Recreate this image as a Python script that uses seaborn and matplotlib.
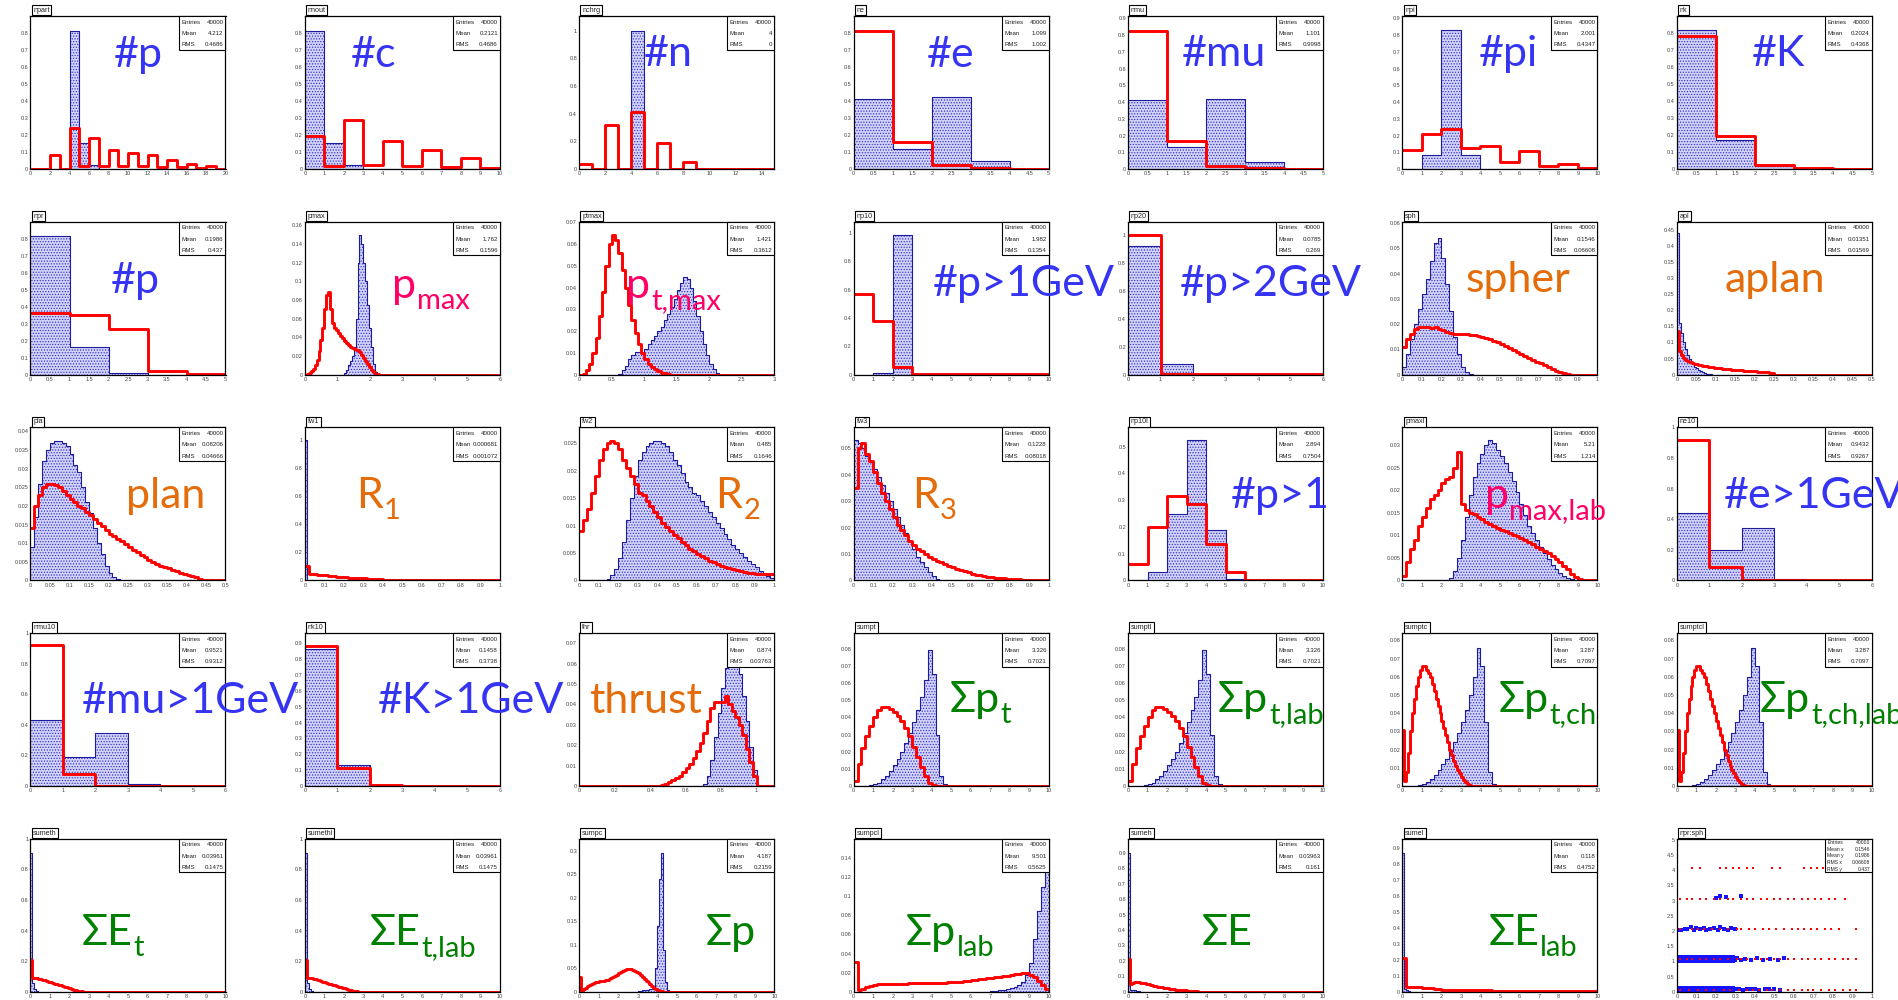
import numpy as np
import pandas as pd
import matplotlib
matplotlib.use("Agg")
import matplotlib.pyplot as plt
from matplotlib.patches import Rectangle
from matplotlib.ticker import AutoMinorLocator
import seaborn as sns

sns.set_style("white")
plt.rcParams["font.family"] = ["Liberation Sans", "DejaVu Sans"]
plt.rcParams["hatch.linewidth"] = 0.55

FIG_W, FIG_H = 1899, 1000

BLUE_TXT = "#3434f2"
ORANGE_TXT = "#e46c0a"
PINK_TXT = "#ff0066"
GREEN_TXT = "#008000"
FILL_FACE = "#d2d3f6"
FILL_DOTS = "#2d2dd8"
FILL_EDGE = "#1c1c9c"
RED = "#ff0000"
LABEL_FONTS = ["Lato", "Open Sans", "DejaVu Sans"]

# ---- histogram contents: (first bin low edge, bin width, bin heights) ----
npart_blue = [0, 0, 0, 0, 0.81, 0.155, 0.025]
npart_red = [0, 0, 0.085, 0, 0.24, 0.02, 0.18, 0.02, 0.11, 0.015, 0.095, 0.015,
             0.085, 0.01, 0.055, 0.01, 0.03, 0.003, 0.015, 0.002]
nnout_blue = [0.81, 0.155, 0.025]
nnout_red = [0.195, 0.02, 0.29, 0.025, 0.165, 0.015, 0.11, 0.01, 0.065, 0.005]
nchrg_blue = [0, 0, 0, 0, 1.0]
nchrg_red = [0.035, 0.002, 0.32, 0.002, 0.41, 0.002, 0.19, 0.002, 0.05, 0.002,
             0.001, 0.001, 0.001, 0.001, 0.001]
ne_blue = [0.41, 0.12, 0.42, 0.045]
ne_red = [0.81, 0.16, 0.025, 0.003, 0.002]
nmu_blue = [0.41, 0.13, 0.42, 0.04]
nmu_red = [0.825, 0.165, 0.015, 0.003, 0.002]
npi_blue = [0, 0.085, 0.83, 0.085]
npi_red = [0.115, 0.21, 0.24, 0.125, 0.135, 0.04, 0.11, 0.015, 0.03, 0.005]
nk_blue = [0.815, 0.17, 0.015]
nk_red = [0.78, 0.195, 0.025, 0.003, 0.002]

npr_blue = [0.815, 0.165, 0.012]
npr_red = [0.365, 0.35, 0.27, 0.02, 0.003]
pmax_blue = [0.002, 0.005, 0.01, 0.015, 0.02, 0.03, 0.06, 0.12, 0.15, 0.14, 0.12,
             0.1, 0.075, 0.05, 0.03, 0.012, 0.003]
pmax_red = [0.0, 0.001, 0.002, 0.004, 0.006, 0.01, 0.016, 0.025, 0.037, 0.05, 0.07,
            0.085, 0.089, 0.07, 0.055, 0.05, 0.048, 0.045, 0.042, 0.039, 0.036,
            0.034, 0.032, 0.03, 0.029, 0.028, 0.027, 0.026, 0.024, 0.021, 0.018,
            0.015, 0.011, 0.008, 0.005, 0.003, 0.001, 0.0005]
ptmax_blue = [0.0005, 0.002, 0.004, 0.007, 0.009, 0.0105, 0.0105, 0.01, 0.012,
              0.014, 0.016, 0.018, 0.02, 0.022, 0.025, 0.028, 0.031, 0.035, 0.039,
              0.042, 0.045, 0.044, 0.04, 0.034, 0.027, 0.02, 0.014, 0.009, 0.005,
              0.0025, 0.001]
ptmax_red = [0, 0.0005, 0.002, 0.005, 0.01, 0.017, 0.027, 0.038, 0.05, 0.06, 0.064,
             0.062, 0.056, 0.048, 0.04, 0.032, 0.025, 0.019, 0.014, 0.01, 0.007,
             0.005, 0.0035, 0.0025, 0.0015, 0.001, 0.0006, 0.0003]
np10_blue = [0, 0.015, 0.985]
np10_red = [0.57, 0.38, 0.055, 0.003, 0.003, 0.003, 0.003, 0.003, 0.003, 0.003]
np20_blue = [0.92, 0.075]
np20_red = [0.995, 0.005, 0.003, 0.003, 0.003, 0.003]
sph_blue = [0.003, 0.008, 0.014, 0.02, 0.026, 0.032, 0.038, 0.045, 0.052, 0.054,
            0.046, 0.036, 0.025, 0.015, 0.008, 0.003, 0.0012, 0.0004]
sph_red = [0.011, 0.014, 0.016, 0.018, 0.019, 0.019, 0.019, 0.0185, 0.019, 0.018,
           0.0175, 0.017, 0.0165, 0.016, 0.016, 0.016, 0.016, 0.0158, 0.0158,
           0.0155, 0.015, 0.0145, 0.014, 0.0135, 0.013, 0.012, 0.0112, 0.0105,
           0.0098, 0.009, 0.0083, 0.0075, 0.0068, 0.006, 0.0052, 0.0045, 0.0038,
           0.003, 0.0023, 0.0016, 0.001, 0.0005, 0.0002]
apl_blue = [0.44, 0.16, 0.13, 0.1, 0.08, 0.062, 0.05, 0.04, 0.032, 0.025, 0.02,
            0.015, 0.011, 0.008, 0.005, 0.003, 0.002, 0.001]
apl_red = [0.135, 0.075, 0.06, 0.052, 0.047, 0.043, 0.04, 0.038, 0.036, 0.034,
           0.032, 0.031, 0.029, 0.028, 0.027, 0.026, 0.025, 0.024, 0.023, 0.022,
           0.021, 0.02, 0.0195, 0.019, 0.018, 0.0175, 0.017, 0.0165, 0.016, 0.0155,
           0.015, 0.0145, 0.014, 0.0135, 0.013, 0.0125, 0.012, 0.0115, 0.011,
           0.0105, 0.01, 0.0095, 0.009, 0.0085, 0.008, 0.0075, 0.007, 0.0065,
           0.006, 0.0055]

pla_blue = [0.009, 0.017, 0.026, 0.032, 0.035, 0.037, 0.0375, 0.0375, 0.037, 0.036,
            0.034, 0.031, 0.029, 0.025, 0.021, 0.018, 0.014, 0.01, 0.007, 0.004,
            0.002, 0.001, 0.0003]
pla_red = [0.014, 0.02, 0.023, 0.025, 0.026, 0.026, 0.0255, 0.025, 0.024, 0.023,
           0.022, 0.021, 0.02, 0.0195, 0.0185, 0.0175, 0.0165, 0.0155, 0.0145,
           0.0135, 0.0125, 0.012, 0.011, 0.0105, 0.0098, 0.009, 0.0083, 0.0076,
           0.0069, 0.0062, 0.0056, 0.005, 0.0045, 0.004, 0.0036, 0.0032, 0.0028,
           0.0024, 0.002, 0.0017, 0.0014, 0.0011, 0.0008, 0.0005, 0.0002]
fw1_blue = [1.0]
fw1_red = [0.1, 0.045, 0.042, 0.04, 0.038, 0.035, 0.032, 0.03, 0.027, 0.025, 0.022,
           0.02, 0.019, 0.018, 0.017, 0.015, 0.013, 0.011, 0.009, 0.007]
fw2_blue = [0.0003, 0.001, 0.002, 0.004, 0.007, 0.011, 0.015, 0.019, 0.022, 0.0235,
            0.0245, 0.025, 0.0255, 0.0255, 0.025, 0.0245, 0.0235, 0.022, 0.021,
            0.0195, 0.018, 0.017, 0.016, 0.0155, 0.0145, 0.0135, 0.0125, 0.0115,
            0.0105, 0.0095, 0.0085, 0.0075, 0.0065, 0.0057, 0.005, 0.0043, 0.0036,
            0.003, 0.0024, 0.0018, 0.0013, 0.0008, 0.0004]
fw2_red = [0.009, 0.011, 0.013, 0.016, 0.019, 0.022, 0.024, 0.025, 0.0255, 0.025,
           0.024, 0.022, 0.0205, 0.019, 0.0175, 0.016, 0.0155, 0.0145, 0.0135,
           0.0125, 0.0115, 0.0105, 0.0098, 0.009, 0.0083, 0.0077, 0.007, 0.0064,
           0.0058, 0.0053, 0.0048, 0.0044, 0.004, 0.0036, 0.0033, 0.003, 0.0027,
           0.0025, 0.0023, 0.0021, 0.0019, 0.0017, 0.0015, 0.0014, 0.0013, 0.0012,
           0.0012, 0.0012, 0.0012, 0.0012]
fw3_blue = [0.053, 0.052, 0.05, 0.047, 0.045, 0.042, 0.039, 0.036, 0.033, 0.03,
            0.027, 0.024, 0.021, 0.018, 0.015, 0.012, 0.009, 0.007, 0.005, 0.003,
            0.0015, 0.0005]
fw3_red = [0.035, 0.05, 0.052, 0.048, 0.045, 0.041, 0.037, 0.033, 0.03, 0.027, 0.024,
           0.021, 0.019, 0.017, 0.015, 0.0135, 0.012, 0.011, 0.01, 0.009, 0.0082,
           0.0075, 0.0068, 0.0062, 0.0056, 0.005, 0.0045, 0.004, 0.0035, 0.003,
           0.0026, 0.0022, 0.0019, 0.0016, 0.0014, 0.0012, 0.001, 0.0009, 0.0008,
           0.0007, 0.0006, 0.0005, 0.0004, 0.0003]
np10l_blue = [0, 0.03, 0.25, 0.525, 0.19, 0.005]
np10l_red = [0.06, 0.2, 0.315, 0.285, 0.135, 0.03, 0.003]
pmaxl_blue = [0.0005, 0.002, 0.005, 0.009, 0.014, 0.019, 0.023, 0.026, 0.028, 0.03,
              0.031, 0.0305, 0.029, 0.0275, 0.026, 0.024, 0.022, 0.0195, 0.017,
              0.0145, 0.012, 0.0105, 0.009, 0.0075, 0.006, 0.0048, 0.0035, 0.0025,
              0.0017, 0.001, 0.0005, 0.0002]
pmaxl_red = [0.001, 0.004, 0.007, 0.009, 0.012, 0.014, 0.016, 0.018, 0.019, 0.02,
             0.0215, 0.0225, 0.023, 0.025, 0.0285, 0.017, 0.0155, 0.015, 0.0148,
             0.014, 0.0135, 0.013, 0.0125, 0.012, 0.0115, 0.0112, 0.011, 0.0105,
             0.01, 0.0098, 0.0095, 0.009, 0.0085, 0.008, 0.0075, 0.007, 0.0065,
             0.006, 0.0055, 0.0048, 0.004, 0.0032, 0.0025, 0.0015, 0.0008, 0.0003]
ne10_blue = [0.44, 0.2, 0.345, 0.012]
ne10_red = [0.915, 0.085, 0.003, 0.002, 0.002, 0.002]

nmu10_blue = [0.435, 0.19, 0.35, 0.012]
nmu10_red = [0.92, 0.08, 0.003, 0.002, 0.002, 0.002]
nk10_blue = [0.86, 0.135, 0.01]
nk10_red = [0.88, 0.115, 0.01, 0.002, 0.002, 0.002]
thr_blue = [0.001, 0.005, 0.013, 0.024, 0.036, 0.048, 0.058, 0.066, 0.068, 0.064,
            0.055, 0.044, 0.032, 0.019, 0.008]
thr_red = [0.0005, 0.001, 0.002, 0.003, 0.004, 0.005, 0.007, 0.009, 0.011, 0.014,
           0.017, 0.021, 0.026, 0.032, 0.038, 0.041, 0.041, 0.041, 0.044, 0.04,
           0.037, 0.034, 0.03, 0.025, 0.018, 0.012, 0.005]
sumpt_blue = [0.0005, 0.001, 0.002, 0.004, 0.006, 0.009, 0.012, 0.016, 0.02, 0.025,
              0.031, 0.037, 0.044, 0.052, 0.062, 0.079, 0.065, 0.03, 0.006, 0.001]
sumpt_red = [0.003, 0.013, 0.022, 0.029, 0.035, 0.04, 0.044, 0.046, 0.046, 0.045,
             0.043, 0.041, 0.038, 0.034, 0.029, 0.023, 0.017, 0.011, 0.006, 0.002,
             0.0005]
sumptc_blue = [0.0005, 0.001, 0.002, 0.004, 0.006, 0.009, 0.012, 0.015, 0.019,
               0.024, 0.029, 0.035, 0.042, 0.05, 0.06, 0.076, 0.066, 0.035, 0.008,
               0.001]
sumptc_red = [0.031, 0.003, 0.008, 0.018, 0.03, 0.04, 0.048, 0.055, 0.06, 0.064,
              0.066, 0.066, 0.064, 0.062, 0.06, 0.056, 0.052, 0.048, 0.044, 0.04,
              0.036, 0.032, 0.028, 0.024, 0.02, 0.017, 0.014, 0.011, 0.009, 0.007,
              0.005, 0.0035, 0.002, 0.001, 0.0005]

sumeth_blue = [0.91, 0.06, 0.02, 0.005]
sumeth_red = [0.21, 0.09, 0.09, 0.088, 0.085, 0.082, 0.078, 0.074, 0.07, 0.066,
              0.062, 0.058, 0.054, 0.05, 0.046, 0.042, 0.038, 0.034, 0.03, 0.026,
              0.022, 0.018, 0.014, 0.01, 0.007, 0.004, 0.002]
sumpc_blue = [0.001, 0.002, 0.003, 0.003, 0.004, 0.004, 0.005, 0.006, 0.01, 0.05,
              0.14, 0.24, 0.295, 0.09, 0.02, 0.004]
sumpc_red = [0.032, 0.002, 0.006, 0.009, 0.012, 0.014, 0.016, 0.018, 0.02, 0.021,
             0.022, 0.023, 0.024, 0.025, 0.026, 0.027, 0.029, 0.031, 0.033, 0.036,
             0.039, 0.042, 0.045, 0.047, 0.048, 0.048, 0.048, 0.047, 0.045, 0.043,
             0.04, 0.036, 0.032, 0.028, 0.024, 0.02, 0.016, 0.012, 0.009, 0.006,
             0.004, 0.002, 0.001, 0.0005]
sumpcl_blue = [0.0005, 0.001, 0.0015, 0.002, 0.003, 0.004, 0.005, 0.007, 0.01,
               0.018, 0.03, 0.055, 0.085, 0.11, 0.125]
sumpcl_red = [0.031, 0.002, 0.003, 0.005, 0.0065, 0.0075, 0.008, 0.008, 0.0082,
              0.0085, 0.0085, 0.0085, 0.0085, 0.0086, 0.0087, 0.0088, 0.0089, 0.009,
              0.0091, 0.0092, 0.0093, 0.0094, 0.0095, 0.0097, 0.0099, 0.0101,
              0.0103, 0.0106, 0.011, 0.0114, 0.0119, 0.0124, 0.0129, 0.0134, 0.014,
              0.0146, 0.0152, 0.0158, 0.0164, 0.017, 0.0176, 0.0182, 0.0188, 0.0194,
              0.0198, 0.018, 0.015, 0.011, 0.007, 0.003]
sumeh_blue = [0.9, 0.012, 0.012, 0.01, 0.008, 0.004]
sumeh_red = [0.21, 0.05, 0.06, 0.065, 0.064, 0.062, 0.06, 0.057, 0.054, 0.051,
             0.048, 0.045, 0.042, 0.039, 0.036, 0.033, 0.03, 0.028, 0.026, 0.024,
             0.022, 0.02, 0.018, 0.016, 0.014, 0.013, 0.012, 0.011, 0.01, 0.009,
             0.008, 0.007, 0.006, 0.005, 0.005, 0.004]
sumel_blue = [0.87, 0.02, 0.01, 0.005]
sumel_red = [0.21, 0.032, 0.031, 0.029, 0.027, 0.025, 0.023, 0.021, 0.019, 0.017,
             0.014, 0.012, 0.012, 0.012, 0.012, 0.012, 0.012, 0.012, 0.012, 0.012,
             0.012, 0.012, 0.011, 0.007, 0.006, 0.006, 0.006, 0.006, 0.006, 0.006,
             0.006, 0.005, 0.005, 0.005, 0.005, 0.005, 0.005, 0.005, 0.004, 0.004,
             0.004, 0.004, 0.004, 0.004, 0.004, 0.003, 0.003, 0.003, 0.003, 0.003]

# ---- npr:sph scatter ----
scat_band_x = [0.00, 0.01, 0.02, 0.03, 0.04, 0.05, 0.06, 0.07, 0.08, 0.09, 0.10,
               0.11, 0.12, 0.13, 0.14, 0.15, 0.16, 0.17, 0.18, 0.19, 0.20, 0.21,
               0.22, 0.23, 0.24, 0.25, 0.26, 0.27, 0.28, 0.29]
scat_band0_y = [0.05, 0.11]
scat_band1_y = [1.0, 1.07, 1.14]
scat_band2_x = [0.0, 0.02, 0.04, 0.05, 0.07, 0.09, 0.1, 0.12, 0.14, 0.15, 0.17,
                0.19, 0.21, 0.22, 0.24, 0.26, 0.28, 0.3]
scat_band2_y = [2.04, 2.02, 2.08, 2.05, 2.12, 2.03, 2.09, 2.06, 2.11, 2.02, 2.07,
                2.1, 2.04, 2.12, 2.06, 2.03, 2.09, 2.05]
scat_tail_x = [0.31, 0.32, 0.34, 0.36, 0.38, 0.4, 0.42, 0.45, 0.47, 0.5, 0.53,
               0.3, 0.31, 0.33, 0.35, 0.38, 0.41, 0.44, 0.48, 0.52, 0.55,
               0.2, 0.22, 0.25, 0.33]
scat_tail_y = [0.08, 0.1, 0.07, 0.09, 0.08, 0.1, 0.07, 0.09, 0.08, 0.1, 0.07,
               1.06, 1.1, 1.05, 1.09, 1.06, 1.1, 1.05, 1.08, 1.06, 1.1,
               3.1, 3.15, 3.12, 3.16]
scat_red_rows = {
    0.07: [0.014, 0.06, 0.11, 0.15, 0.19, 0.24, 0.27, 0.32, 0.36, 0.39, 0.42, 0.46,
           0.49, 0.53, 0.57, 0.60, 0.64, 0.67, 0.70, 0.74, 0.78, 0.81, 0.85, 0.89,
           0.92],
    1.07: [0.014, 0.05, 0.08, 0.12, 0.15, 0.19, 0.22, 0.26, 0.31, 0.33, 0.36, 0.40,
           0.43, 0.46, 0.50, 0.53, 0.57, 0.60, 0.64, 0.67, 0.71, 0.74, 0.78, 0.81,
           0.85, 0.88, 0.92],
    2.07: [0.014, 0.08, 0.11, 0.14, 0.18, 0.22, 0.26, 0.31, 0.33, 0.37, 0.40, 0.44,
           0.47, 0.51, 0.55, 0.59, 0.62, 0.65, 0.69, 0.72, 0.76, 0.79, 0.83, 0.92],
    3.05: [0.014, 0.05, 0.08, 0.12, 0.15, 0.19, 0.22, 0.26, 0.29, 0.33, 0.36, 0.39,
           0.43, 0.46, 0.50, 0.53, 0.57, 0.60, 0.64, 0.67, 0.71, 0.74, 0.78, 0.81,
           0.86],
    4.07: [0.08, 0.12, 0.22, 0.25, 0.29, 0.32, 0.36, 0.39, 0.49, 0.53, 0.65, 0.69,
           0.72, 0.75],
}

PANELS = [
    # row 1
    dict(title="npart", xmax=20, xstep=2, xtop=20, ymax=0.898, ytop=0.8, ystep=0.1,
         blue=(0, 1, npart_blue), red=(0, 1, npart_red), stats=("4.212", "0.4686"),
         label=("#p", "", BLUE_TXT, 83, 51)),
    dict(title="nnout", xmax=10, xstep=1, xtop=10, ymax=0.898, ytop=0.8, ystep=0.1,
         blue=(0, 1, nnout_blue), red=(0, 1, nnout_red), stats=("0.2121", "0.4686"),
         label=("#c", "", BLUE_TXT, 46, 51)),
    dict(title="nchrg", xmax=15, xstep=2, xtop=14, ymax=1.106, ytop=1.0, ystep=0.2,
         blue=(0, 1, nchrg_blue), red=(0, 1, nchrg_red), stats=("4", "0"),
         label=("#n", "", BLUE_TXT, 65, 50)),
    dict(title="ne", xmax=5, xstep=0.5, xtop=5, ymax=0.898, ytop=0.8, ystep=0.1,
         blue=(0, 1, ne_blue), red=(0, 1, ne_red), stats=("1.099", "1.002"),
         label=("#e", "", BLUE_TXT, 73, 51)),
    dict(title="nmu", xmax=5, xstep=0.5, xtop=5, ymax=0.914, ytop=0.9, ystep=0.1,
         blue=(0, 1, nmu_blue), red=(0, 1, nmu_red), stats=("1.101", "0.9998"),
         label=("#mu", "", BLUE_TXT, 54, 50)),
    dict(title="npi", xmax=10, xstep=1, xtop=10, ymax=0.914, ytop=0.9, ystep=0.1,
         blue=(0, 1, npi_blue), red=(0, 1, npi_red), stats=("2.001", "0.4347"),
         label=("#pi", "", BLUE_TXT, 76, 50)),
    dict(title="nk", xmax=5, xstep=0.5, xtop=5, ymax=0.898, ytop=0.8, ystep=0.1,
         blue=(0, 1, nk_blue), red=(0, 1, nk_red), stats=("0.2024", "0.4368"),
         label=("#K", "", BLUE_TXT, 75, 50)),
    # row 2
    dict(title="npr", xmax=5, xstep=0.5, xtop=5, ymax=0.902, ytop=0.8, ystep=0.1,
         blue=(0, 1, npr_blue), red=(0, 1, npr_red), stats=("0.1986", "0.437"),
         label=("#p", "", BLUE_TXT, 80, 71)),
    dict(title="pmax", xmax=6, xstep=1, xtop=6, ymax=0.164, ytop=0.16, ystep=0.02,
         blue=(1.2, 0.06, pmax_blue), red=(0, 0.06, pmax_red), stats=("1.762", "0.1596"),
         label=("p", "max", PINK_TXT, 87, 76)),
    dict(title="ptmax", xmax=3, xstep=0.5, xtop=3, ymax=0.0703, ytop=0.07, ystep=0.01,
         blue=(0.6, 0.05, ptmax_blue), red=(0, 0.05, ptmax_red), stats=("1.421", "0.3612"),
         label=("p", "t,max", PINK_TXT, 47, 76)),
    dict(title="np10", xmax=10, xstep=1, xtop=10, ymax=1.08, ytop=1.0, ystep=0.2,
         blue=(0, 1, np10_blue), red=(0, 1, np10_red), stats=("1.982", "0.1354"),
         label=("#p>1GeV", "", BLUE_TXT, 79, 74)),
    dict(title="np20", xmax=6, xstep=1, xtop=6, ymax=1.093, ytop=1.0, ystep=0.2,
         blue=(0, 1, np20_blue), red=(0, 1, np20_red), stats=("0.0785", "0.269"),
         label=("#p>2GeV", "", BLUE_TXT, 52, 74)),
    dict(title="sph", xmax=1, xstep=0.1, xtop=1, ymax=0.0605, ytop=0.06, ystep=0.01,
         blue=(0, 0.02, sph_blue), red=(0, 0.02, sph_red), stats=("0.1546", "0.06608"),
         label=("spher", "", ORANGE_TXT, 63, 70)),
    dict(title="apl", xmax=0.5, xstep=0.05, xtop=0.5, ymax=0.475, ytop=0.45, ystep=0.05,
         blue=(0, 0.005, apl_blue), red=(0, 0.005, apl_red), stats=("0.01351", "0.01569"),
         label=("aplan", "", ORANGE_TXT, 48, 70)),
    # row 3
    dict(title="pla", xmax=0.5, xstep=0.05, xtop=0.5, ymax=0.0411, ytop=0.04, ystep=0.005,
         blue=(0, 0.01, pla_blue), red=(0, 0.01, pla_red), stats=("0.08206", "0.04666"),
         label=("plan", "", ORANGE_TXT, 96, 81)),
    dict(title="fw1", xmax=1, xstep=0.1, xtop=1, ymax=1.089, ytop=1.0, ystep=0.2,
         blue=(0, 0.01, fw1_blue), red=(0, 0.02, fw1_red), stats=("0.000681", "0.001072"),
         label=("R", "1", ORANGE_TXT, 51, 81)),
    dict(title="fw2", xmax=1, xstep=0.1, xtop=1, ymax=0.0279, ytop=0.025, ystep=0.005,
         blue=(0.14, 0.02, fw2_blue), red=(0, 0.02, fw2_red), stats=("0.485", "0.1646"),
         label=("R", "2", ORANGE_TXT, 136, 81)),
    dict(title="fw3", xmax=1, xstep=0.1, xtop=1, ymax=0.0579, ytop=0.05, ystep=0.01,
         blue=(0, 0.02, fw3_blue), red=(0, 0.02, fw3_red), stats=("0.1228", "0.08018"),
         label=("R", "3", ORANGE_TXT, 58, 81)),
    dict(title="np10l", xmax=10, xstep=1, xtop=10, ymax=0.572, ytop=0.5, ystep=0.1,
         blue=(0, 1, np10l_blue), red=(0, 1, np10l_red), stats=("2.894", "0.7504"),
         label=("#p>1", "", BLUE_TXT, 103, 81)),
    dict(title="pmaxl", xmax=10, xstep=1, xtop=10, ymax=0.0339, ytop=0.03, ystep=0.005,
         blue=(2.4, 0.2, pmaxl_blue), red=(0, 0.2, pmaxl_red), stats=("5.21", "1.214"),
         label=("p", "max,lab", PINK_TXT, 82, 81)),
    dict(title="ne10", xmax=6, xstep=1, xtop=6, ymax=1.0, ytop=1.0, ystep=0.2,
         blue=(0, 1, ne10_blue), red=(0, 1, ne10_red), stats=("0.9432", "0.9267"),
         label=("#e>1GeV", "", BLUE_TXT, 47, 81)),
    # row 4
    dict(title="nmu10", xmax=6, xstep=1, xtop=6, ymax=1.0, ytop=1.0, ystep=0.2,
         blue=(0, 1, nmu10_blue), red=(0, 1, nmu10_red), stats=("0.9521", "0.9312"),
         label=("#mu>1GeV", "", BLUE_TXT, 51, 80)),
    dict(title="nk10", xmax=6, xstep=1, xtop=6, ymax=0.9625, ytop=0.9, ystep=0.1,
         blue=(0, 1, nk10_blue), red=(0, 1, nk10_red), stats=("0.1458", "0.3738"),
         label=("#K>1GeV", "", BLUE_TXT, 73, 80)),
    dict(title="thr", xmax=1.1, xstep=0.2, xtop=1, ymax=0.0749, ytop=0.07, ystep=0.01,
         blue=(0.7, 0.02, thr_blue), red=(0.46, 0.02, thr_red), stats=("0.874", "0.03763"),
         label=("thrust", "", ORANGE_TXT, 10, 80)),
    dict(title="sumpt", xmax=10, xstep=1, xtop=10, ymax=0.089, ytop=0.08, ystep=0.01,
         blue=(0.8, 0.2, sumpt_blue), red=(0, 0.2, sumpt_red), stats=("3.326", "0.7021"),
         label=("\u03a3p", "t", GREEN_TXT, 96, 79)),
    dict(title="sumptl", xmax=10, xstep=1, xtop=10, ymax=0.089, ytop=0.08, ystep=0.01,
         blue=(0.8, 0.2, sumpt_blue), red=(0, 0.2, sumpt_red), stats=("3.326", "0.7021"),
         label=("\u03a3p", "t,lab", GREEN_TXT, 90, 79)),
    dict(title="sumptc", xmax=10, xstep=1, xtop=10, ymax=0.084, ytop=0.08, ystep=0.01,
         blue=(0.8, 0.2, sumptc_blue), red=(0, 0.1, sumptc_red), stats=("3.287", "0.7097"),
         label=("\u03a3p", "t,ch", GREEN_TXT, 96, 79)),
    dict(title="sumptcl", xmax=10, xstep=1, xtop=10, ymax=0.084, ytop=0.08, ystep=0.01,
         blue=(0.8, 0.2, sumptc_blue), red=(0, 0.1, sumptc_red), stats=("3.287", "0.7097"),
         label=("\u03a3p", "t,ch,lab", GREEN_TXT, 83, 79)),
    # row 5
    dict(title="sumeth", xmax=10, xstep=1, xtop=10, ymax=1.0, ytop=1.0, ystep=0.2,
         blue=(0, 0.1, sumeth_blue), red=(0, 0.1, sumeth_red), stats=("0.03961", "0.1475"),
         label=("\u03a3E", "t", GREEN_TXT, 51, 106)),
    dict(title="sumethl", xmax=10, xstep=1, xtop=10, ymax=1.0, ytop=1.0, ystep=0.2,
         blue=(0, 0.1, sumeth_blue), red=(0, 0.1, sumeth_red), stats=("0.03961", "0.1475"),
         label=("\u03a3E", "t,lab", GREEN_TXT, 65, 106)),
    dict(title="sumpc", xmax=10, xstep=1, xtop=10, ymax=0.326, ytop=0.3, ystep=0.05,
         blue=(3.0, 0.1, sumpc_blue), red=(0, 0.1, sumpc_red), stats=("4.187", "0.2159"),
         label=("\u03a3p", "", GREEN_TXT, 126, 106)),
    dict(title="sumpcl", xmax=10, xstep=1, xtop=10, ymax=0.16, ytop=0.14, ystep=0.02,
         blue=(7.0, 0.2, sumpcl_blue), red=(0, 0.2, sumpcl_red), stats=("9.501", "0.5625"),
         label=("\u03a3p", "lab", GREEN_TXT, 52, 106)),
    dict(title="sumeh", xmax=10, xstep=1, xtop=10, ymax=0.99, ytop=0.9, ystep=0.1,
         blue=(0, 0.1, sumeh_blue), red=(0, 0.1, sumeh_red), stats=("0.03963", "0.161"),
         label=("\u03a3E", "", GREEN_TXT, 74, 106)),
    dict(title="sumel", xmax=10, xstep=1, xtop=10, ymax=0.956, ytop=0.9, ystep=0.1,
         blue=(0, 0.1, sumel_blue), red=(0, 0.2, sumel_red), stats=("0.118", "0.4752"),
         label=("\u03a3E", "lab", GREEN_TXT, 86, 106)),
]

SCATTER = dict(title="npr:sph", xmax=1, xstep=0.1, xtop=1, ymax=5.03, ytop=5, ystep=0.5,
               stats=[("Entries", "40000"), ("Mean x", "0.1546"), ("Mean y", "0.1986"),
                      ("RMS x", "0.06608"), ("RMS y", "0.437")])

# ---- layout (pixels) ----
COL_LEFT0, COL_STEP, AX_W = 30.5, 274.4, 195
ROW_TOP0, ROW_STEP, AX_H = 16, 205.7, 153

fig = plt.figure(figsize=(FIG_W / 100, FIG_H / 100), dpi=100, facecolor="white")


def panel_axes(idx):
    r, c = divmod(idx, 7)
    left = COL_LEFT0 + COL_STEP * c
    top = ROW_TOP0 + ROW_STEP * r
    ax = fig.add_axes([left / FIG_W, 1 - (top + AX_H) / FIG_H, AX_W / FIG_W, AX_H / FIG_H])
    return ax, left, top


def binned(spec, xmax):
    x0, width, values = spec
    n = int(round(xmax / width))
    k = int(round(x0 / width))
    heights = np.zeros(n)
    heights[k:k + len(values)] = values
    edges = np.linspace(0.0, xmax, n + 1)
    df = pd.DataFrame({"x": 0.5 * (edges[:-1] + edges[1:]), "w": heights})
    return df, [float(e) for e in edges]


def fmt(v):
    return "{:g}".format(round(v, 6))


def style_axes(ax, p):
    ax.set_xlim(0, p["xmax"])
    ax.set_ylim(0, p["ymax"])
    xt = np.arange(0, p["xtop"] + p["xstep"] * 0.01, p["xstep"])
    yt = np.arange(0, p["ytop"] + p["ystep"] * 0.01, p["ystep"])
    ax.set_xticks(xt)
    ax.set_xticklabels([fmt(v) for v in xt])
    ax.set_yticks(yt)
    ax.set_yticklabels([fmt(v) for v in yt])
    ax.xaxis.set_minor_locator(AutoMinorLocator(5))
    ax.yaxis.set_minor_locator(AutoMinorLocator(5))
    ax.tick_params(which="major", direction="in", length=2.6, width=0.5,
                   labelsize=4.0, pad=1.6, colors="#222222", labelcolor="#444444")
    ax.tick_params(which="minor", direction="in", length=1.3, width=0.4, colors="#222222")
    ax.set_xlabel("")
    ax.set_ylabel("")
    ax.grid(False)
    for s in ax.spines.values():
        s.set_linewidth(0.9)
        s.set_color("black")
        s.set_zorder(8)
    ax.set_facecolor("white")


def title_box(ax, text):
    ax.text(0.014, 1.014, text, transform=ax.transAxes, fontsize=5.2, ha="left",
            va="bottom", zorder=9, clip_on=False,
            bbox=dict(boxstyle="square,pad=0.22", fc="white", ec="black", lw=0.8))


def stats_box(ax, rows):
    ax.add_patch(Rectangle((0.76, 0.78), 0.24, 0.22, transform=ax.transAxes,
                           fc="white", ec="black", lw=0.8, zorder=9, clip_on=False))
    n = len(rows)
    fs = 4.4 if n <= 3 else 3.6
    for i, (k, v) in enumerate(rows):
        y = 1.0 - 0.22 * (i + 0.55) / n
        ax.text(0.772, y, k, transform=ax.transAxes, fontsize=fs, ha="left",
                va="center", zorder=10, color="#222222")
        ax.text(0.99, y, v, transform=ax.transAxes, fontsize=fs, ha="right",
                va="center", zorder=10, color="#222222")


label_specs = []

for i, p in enumerate(PANELS):
    ax, left, top = panel_axes(i)
    bdf, bedges = binned(p["blue"], p["xmax"])
    rdf, redges = binned(p["red"], p["xmax"])
    # dotted blue fill
    sns.histplot(data=bdf, x="x", weights="w", bins=bedges, element="step", fill=True,
                 facecolor=FILL_FACE, edgecolor=FILL_DOTS, linewidth=0, alpha=1,
                 hatch="......", ax=ax, zorder=2)
    # blue outline
    sns.histplot(data=bdf, x="x", weights="w", bins=bedges, element="step", fill=False,
                 color=FILL_EDGE, linewidth=0.8, ax=ax, zorder=3)
    # red comparison histogram
    sns.histplot(data=rdf, x="x", weights="w", bins=redges, element="step", fill=False,
                 color=RED, linewidth=2.1, ax=ax, zorder=4)
    style_axes(ax, p)
    title_box(ax, p["title"])
    stats_box(ax, [("Entries", "40000"), ("Mean", p["stats"][0]), ("RMS", p["stats"][1])])
    main, sub, color, dx, dy = p["label"]
    label_specs.append((left + dx, top + dy, main, sub, color))

# two-dimensional npr vs sph panel
ax, left, top = panel_axes(34)
bx, by = [], []
for yv in scat_band0_y + scat_band1_y:
    bx += scat_band_x
    by += [yv] * len(scat_band_x)
bx += scat_band2_x
by += scat_band2_y
bx += scat_tail_x
by += scat_tail_y
sns.scatterplot(x=bx, y=by, marker="s", s=7, color="#1414ff", linewidth=0, ax=ax,
                legend=False, zorder=3)
rx, ry = [], []
for yv, xs in scat_red_rows.items():
    rx += xs
    ry += [yv] * len(xs)
sns.scatterplot(x=rx, y=ry, marker="s", s=4.5, color=RED, linewidth=0, ax=ax,
                legend=False, zorder=4)
style_axes(ax, SCATTER)
title_box(ax, SCATTER["title"])
stats_box(ax, SCATTER["stats"])

# large coloured captions drawn on top of the panels
renderer = fig.canvas.get_renderer()
for x_px, base_px, main, sub, color in label_specs:
    xf = x_px / FIG_W
    yf = 1 - base_px / FIG_H
    t = fig.text(xf, yf, main, color=color, fontsize=31, family=LABEL_FONTS,
                 ha="left", va="baseline", zorder=20)
    if sub:
        bb = t.get_window_extent(renderer=renderer)
        fig.text((bb.x1 + 1) / FIG_W, yf - 11 / FIG_H, sub, color=color, fontsize=21,
                 family=LABEL_FONTS, ha="left", va="baseline", zorder=20)

fig.savefig("out.png", dpi=100, facecolor="white")
